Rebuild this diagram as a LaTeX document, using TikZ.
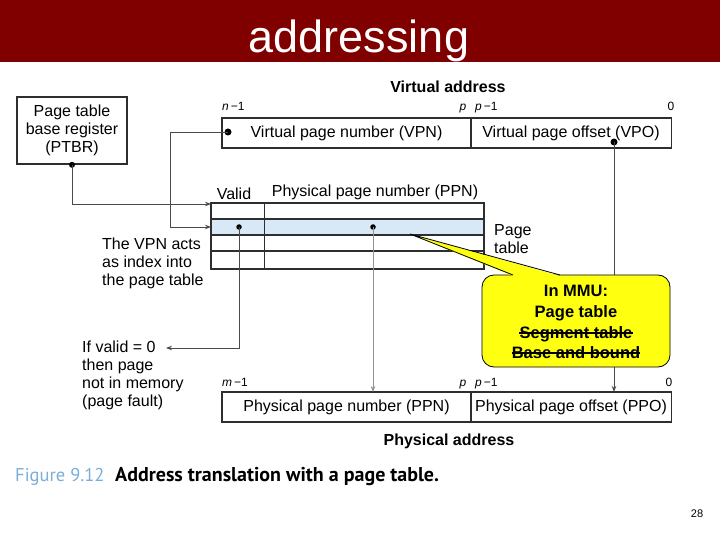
\documentclass[tikz,border=0pt]{standalone}
\usepackage{fontspec}
\setmainfont{Liberation Sans}
\newfontfamily\capfont{PT Sans}
\usetikzlibrary{arrows.meta}
\definecolor{banner}{HTML}{800000}
\definecolor{ln}{HTML}{2E2E2E}
\definecolor{cn}{HTML}{4A4A4A}
\definecolor{rowblue}{HTML}{D8E8F6}
\definecolor{figblue}{HTML}{7AAED8}
\definecolor{callout}{HTML}{FFFF10}
\begin{document}
\begin{tikzpicture}[x=1pt,y=-1pt,
  lbl/.style={font=\fontsize{16}{18}\selectfont, inner sep=0pt},
  sm/.style={font=\fontsize{12}{14}\selectfont, inner sep=0pt, anchor=base},
  boxn/.style={draw=ln, line width=1.6pt, font=\fontsize{16}{18}\selectfont, inner sep=0pt},
  conn/.style={draw=cn, line width=0.9pt},
  arr/.style={conn, -{Stealth[length=6pt,width=4.5pt]}},
  dot/.style={circle, fill=black, inner sep=0pt, minimum size=#1},
  dot/.default=6pt,
  mmutext/.style={font=\fontsize{16.5}{18}\selectfont\bfseries, inner sep=0pt, anchor=base},
]
\useasboundingbox (0,0) rectangle (720,540);
% banner
\fill[banner] (0,0) rectangle (720,62);
\node[font=\fontsize{45}{50}\selectfont, text=white, anchor=base, inner sep=0pt] (title) at (359,53) {addressing};

% PTBR
\node[boxn, minimum width=110pt, minimum height=67pt, align=center] (ptbr) at (72,130.5)
  {Page table\\base register\\(PTBR)};
\node[dot] (ptbrdot) at (ptbr.south) {};

% virtual address
\node[lbl, font=\fontsize{16}{18}\selectfont\bfseries] (va) at (448,87) {Virtual address};
\node[boxn, minimum width=249pt, minimum height=30pt] (vpn) at (346.5,133) {Virtual page number (VPN)};
\node[boxn, minimum width=201pt, minimum height=30pt] (vpo) at (571,133) {Virtual page offset (VPO)};
\node[sm, anchor=base west] (vn1) at (222,111) {\textit{n}\,−1};
\node[sm] (vp) at (463,111) {\textit{p}};
\node[sm, anchor=base west] (vp1) at (475,111) {\textit{p}\,−1};
\node[sm] (v0) at (671,111) {0};
\node[dot=7pt] (vpndot) at (228,132) {};
\node[dot=7pt] (vpodot) at (614,142) {};

% page table
\fill[rowblue] (211,219) rectangle (484,235);
\draw[ln, line width=1.6pt] (211,203) rectangle (484,269);
\draw[ln, line width=1.6pt] (211,219) -- (484,219) (211,235) -- (484,235) (211,251) -- (484,251);
\draw[ln, line width=1pt] (264,203) -- (264,269);
\coordinate (tbase) at (211,204);
\coordinate (trow) at (211,227);
\node[lbl] (valid) at (234,194) {Valid};
\node[lbl] (ppnh) at (375,192) {Physical page number (PPN)};
\node[lbl, align=left, anchor=west] (ptlbl) at (494,239.5) {Page\\table};
\node[dot=5.5pt] (vd) at (239,227) {};
\node[dot=5.5pt] (pd) at (373,227) {};

% side texts
\node[lbl, align=left, anchor=west] (vpnacts) at (102,263) {The VPN acts\\as index into\\the page table};
\node[lbl, align=left, anchor=west] (ifvalid) at (82,375) {If valid = 0\\then page\\not in memory\\(page fault)};
\coordinate (ifv) at (166,348);
\coordinate (vbend) at (170,227);

% physical address
\node[boxn, minimum width=249pt, minimum height=30pt] (ppn) at (346.5,407) {Physical page number (PPN)};
\node[boxn, minimum width=201pt, minimum height=30pt] (ppo) at (571,407) {Physical page offset (PPO)};
\node[sm, anchor=base west] (pm1) at (222,386) {\textit{m}\,−1};
\node[sm] (pp) at (463,386) {\textit{p}};
\node[sm, anchor=base west] (pp1) at (475,386) {\textit{p}\,−1};
\node[sm] (p0) at (669,386) {0};
\node[lbl, font=\fontsize{16}{18}\selectfont\bfseries] (pa) at (449,441) {Physical address};
\coordinate (ppntop) at (373,392);
\coordinate (ppotop) at (614,392);

% connectors
\draw[arr] (ptbrdot.center) |- (tbase);
\draw[arr] (vpndot.center) -| (vbend) -- (trow);
\draw[arr] (vd.center) |- (ifv);
\draw[arr, draw=cn!60, line width=0.6pt] (pd.center) -- (ppntop);
\draw[arr] (vpodot.center) -- (ppotop);

% callout
\node[draw=black, line width=0.8pt, fill=callout, rounded corners=12pt, minimum width=188pt, minimum height=92pt] (mmu) at (576,321) {};
\fill[callout] (513,276) -- (410,234) -- (560,276) -- cycle;
\draw[black, line width=0.8pt] (513,275) -- (410,234) -- (560,275);
\node[mmutext] (m1) at (576,296) {In MMU:};
\node[mmutext] (m2) at (576,317) {Page table};
\node[mmutext] (m3) at (576,338) {Segment table};
\node[mmutext] (m4) at (576,358) {Base and bound};
\draw[line width=1.3pt] ([yshift=5pt]m3.base west) -- ([yshift=5pt]m3.base east);
\draw[line width=1.3pt] ([yshift=5pt]m4.base west) -- ([yshift=5pt]m4.base east);

% caption
\node[font=\capfont\fontsize{18.5}{20}\selectfont, text=figblue, anchor=base west, inner sep=0pt] (fig) at (15,481) {Figure 9.12};
\node[font=\capfont\fontsize{20}{22}\selectfont\bfseries, anchor=base west, inner sep=0pt] (cap) at (115,481) {Address translation with a page table.};
\node[font=\fontsize{11}{12}\selectfont, inner sep=0pt] (pg) at (697,514) {28};
\end{tikzpicture}
\end{document}
